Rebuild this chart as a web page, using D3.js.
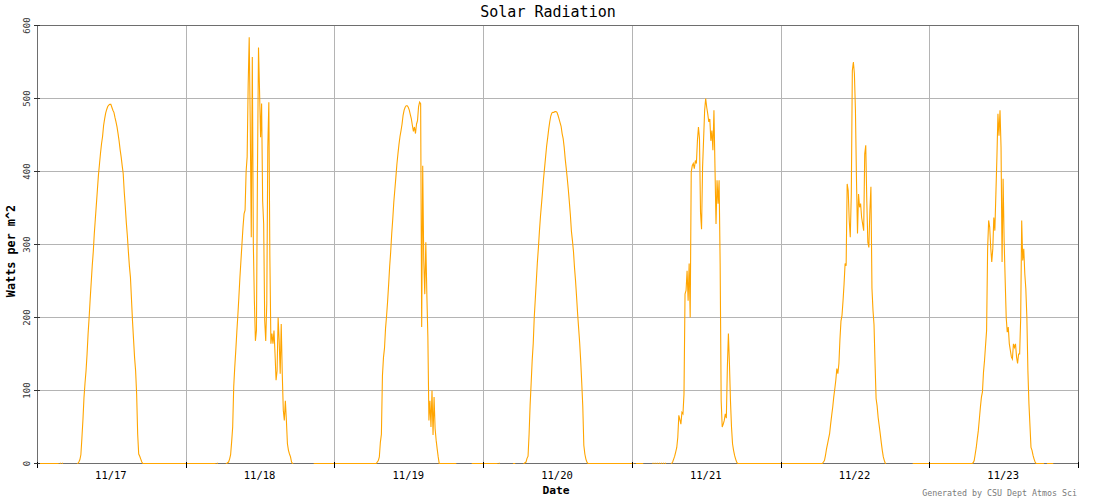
<!DOCTYPE html>
<html><head><meta charset="utf-8">
<script src="https://cdn.jsdelivr.net/npm/d3@7"></script>
<style>
html,body{margin:0;padding:0;background:#fff;}
svg{display:block;}
</style></head><body>
<svg id="chart" width="1100" height="500"></svg>
<script>
const chartTitle = "Solar Radiation";
const xAxisTitle = "Date";
const yAxisTitle = "Watts per m^2";
const creditText = "Generated by CSU Dept Atmos Sci";
const dayLabels = ["11/17","11/18","11/19","11/20","11/21","11/22","11/23"];
const yTicks = [0,100,200,300,400,500,600];
const sampleMinutes = 10;

// 10-minute samples, 00:00 to 23:50, one array per day (W/m^2)
const nov17 = [
0,0,0,0,0,0,0,0,0,0,0,0,
0,0,0,0,0,0,0,0,0,-3,0,-3,
0,-3,-3,-3,-3,-3,-3,-3,-3,-3,-3,-3,
-3,-3,-3,0,2,5,12,35,60,90,110,127,
150,178,200,225,248,271,290,315,335,355,375,395,
410,425,438,448,463,472,480,485,489,491,492,492,
488,484,481,474,468,461,452,442,430,420,408,397,
372,352,330,312,290,270,255,225,195,170,145,127,
95,40,13,10,6,2,0,0,0,0,0,0,
0,0,0,0,0,0,0,0,0,0,0,0,
0,0,0,0,0,0,0,0,0,0,0,0,
0,0,0,0,0,0,0,0,0,0,0,0];
const nov18 = [
0,0,0,0,0,0,0,0,0,0,0,0,
0,0,0,0,0,0,0,0,0,0,0,0,
0,0,0,0,0,-3,0,-3,-3,-3,-3,-3,
-3,-3,-3,0,1,2,6,12,30,50,105,132,
155,180,203,228,255,278,301,324,342,347,400,420,
520,584,465,310,557,300,223,168,182,401,570,511,
447,493,360,328,196,168,219,433,495,283,164,178,
164,182,150,114,127,200,168,123,191,123,73,59,
86,59,27,18,13,9,2,0,-3,-3,-3,-3,
-3,-3,-3,-3,-3,-3,-3,-3,-3,-3,-3,-3,
-3,-3,-3,-3,0,0,0,0,0,0,0,0,
0,0,0,0,0,0,0,0,0,0,0,0];
const nov19 = [
0,0,0,0,0,0,0,0,0,0,0,0,
0,0,0,0,0,0,0,0,0,0,0,0,
0,0,0,0,0,0,0,0,0,0,0,0,
0,0,0,0,0,2,4,9,29,40,120,145,
158,185,202,222,245,270,290,315,335,358,375,392,
410,424,437,448,456,465,477,484,488,490,490,488,
484,478,472,463,455,461,452,465,470,489,495,493,
187,408,278,232,303,232,173,59,86,50,100,39,
91,48,32,20,9,0,0,0,0,0,0,0,
0,0,0,0,0,0,0,0,0,0,-3,-3,
-3,-3,-3,-3,-3,-3,-3,-3,-3,-3,-3,-3,
-3,0,0,0,0,0,0,0,0,0,0,0];
const nov20 = [
0,0,0,0,0,0,0,0,0,0,0,0,
0,0,-3,0,-3,-3,-3,-3,-3,-3,-3,-3,
-3,-3,-3,-3,-3,0,0,-3,-3,-3,-3,-3,
-3,-3,-3,0,1,2,7,10,40,80,110,141,
164,200,225,250,275,295,318,338,355,372,390,405,
420,435,446,458,468,476,480,481,481,482,482,481,
477,472,467,462,452,445,433,417,404,390,375,358,
340,318,305,290,268,250,228,205,185,165,140,110,
78,25,13,6,2,0,0,0,0,0,0,0,
0,0,0,0,0,0,0,0,0,0,0,0,
0,0,0,0,0,0,0,0,0,0,0,0,
0,0,0,0,0,0,0,0,0,0,0,0];
const nov21 = [
0,0,-3,-3,0,0,0,0,0,0,0,-3,
-3,-3,-3,-3,-3,-3,-3,-3,0,-3,0,-3,
0,-3,0,-3,0,-3,0,-3,0,-3,-3,-3,
-3,-3,0,2,6,10,16,22,36,66,60,54,
70,68,95,232,237,264,223,274,200,399,408,411,
404,415,411,442,461,445,344,321,406,445,484,500,
488,479,468,472,442,456,429,484,406,328,388,356,
388,274,86,50,54,59,68,62,132,178,137,86,
50,27,18,11,6,2,0,0,0,0,0,0,
0,0,0,0,0,0,0,0,0,0,0,0,
0,0,0,0,0,0,0,0,0,0,0,0,
0,0,0,0,0,0,0,0,0,0,0,0];
const nov22 = [
0,0,0,0,0,0,0,0,0,0,0,0,
0,0,0,0,0,0,0,0,0,0,0,0,
0,0,0,0,0,0,0,0,0,0,0,0,
0,0,0,0,0,2,4,11,20,27,34,41,
54,66,77,91,102,114,130,123,137,170,195,203,
223,246,274,271,383,374,333,310,369,538,550,534,
484,390,315,369,351,356,337,328,319,424,436,360,
303,296,347,379,240,210,190,137,89,79,63,52,
41,29,18,9,4,0,-3,-3,-3,-3,-3,-3,
-3,-3,-3,-3,-3,-3,-3,-3,-3,-3,-3,-3,
-3,-3,-3,-3,-3,-3,-3,-3,0,0,0,0,
0,0,0,0,0,0,0,0,0,0,0,0];
const nov23 = [
0,0,0,0,0,0,0,0,0,0,0,0,
0,0,0,0,0,0,0,0,0,0,0,0,
0,0,0,0,0,0,0,0,0,0,0,0,
0,0,0,0,0,0,1,4,13,22,34,45,
61,77,91,98,125,141,162,182,294,333,324,296,
276,294,337,319,369,420,479,449,484,433,276,390,
305,251,200,180,187,164,155,146,143,164,159,164,
146,137,150,150,198,333,278,294,260,239,200,127,
82,52,22,18,11,6,2,0,0,0,0,0,
0,0,0,-3,-3,-3,0,0,0,0,0,0,
-3,-3,-3,-3,-3,-3,-3,-3,-3,-3,-3,-3,
-3,-3,-3,-3,-3,-3,-3,-3,-3,-3,-3,-3];

const series = [nov17, nov18, nov19, nov20, nov21, nov22, nov23];
const dayMs = 86400000;
const start = Date.UTC(2000, 10, 17);

const points = [];
series.forEach((vals, d) => vals.forEach((v, i) => {
  points.push({ t: new Date(start + d * dayMs + i * sampleMinutes * 60000), v });
}));

const plotL = 37, plotR = 1078, plotT = 25, plotB = 463;
const x = d3.scaleUtc().domain([new Date(start), new Date(start + 7 * dayMs)]).range([plotL, plotR]);
const y = d3.scaleLinear().domain([0, 600]).range([plotB, plotT]);

const svg = d3.select("#chart");
svg.append("rect").attr("width", 1100).attr("height", 500).attr("fill", "#fff");
const g = svg.append("g").attr("transform", "translate(0.5,0.5)");

const dayBounds = d3.range(0, 8).map(d => new Date(start + d * dayMs));
const dayNoons = dayLabels.map((lab, d) => new Date(start + d * dayMs + dayMs / 2));

// grid
g.append("g").selectAll("line").data(yTicks.filter(v => v > 0 && v < 600)).join("line")
  .attr("x1", plotL).attr("x2", plotR)
  .attr("y1", d => Math.round(y(d))).attr("y2", d => Math.round(y(d)))
  .attr("stroke", "#b4b4b4").attr("shape-rendering", "crispEdges");
g.append("g").selectAll("line").data(dayBounds.slice(1, 7)).join("line")
  .attr("x1", d => Math.round(x(d))).attr("x2", d => Math.round(x(d)))
  .attr("y1", plotT).attr("y2", plotB)
  .attr("stroke", "#b4b4b4").attr("shape-rendering", "crispEdges");

// frame
g.append("rect").attr("x", plotL).attr("y", plotT).attr("width", plotR - plotL).attr("height", plotB - plotT)
  .attr("fill", "none").attr("stroke", "#6e6e6e").attr("shape-rendering", "crispEdges");

// data line
svg.append("defs").append("clipPath").attr("id", "plotclip")
  .append("rect").attr("x", plotL - 0.5).attr("y", plotT - 0.5).attr("width", plotR - plotL + 1).attr("height", plotB - plotT + 1);
const line = d3.line().x(d => x(d.t)).y(d => y(d.v));
g.append("path").datum(points)
  .attr("clip-path", "url(#plotclip)")
  .attr("fill", "none").attr("stroke", "#ffa500").attr("stroke-width", 1.1)
  .attr("d", line);

// x tick marks
g.append("g").selectAll("line").data(dayBounds).join("line")
  .attr("x1", d => Math.round(x(d))).attr("x2", d => Math.round(x(d)))
  .attr("y1", plotB - 2).attr("y2", plotB + 4)
  .attr("stroke", "#000").attr("shape-rendering", "crispEdges");
// x labels
const xLab = d3.axisBottom(x).tickValues(dayNoons).tickSize(0).tickPadding(0)
  .tickFormat((d, i) => dayLabels[i]);
const xl = svg.append("g").attr("transform", "translate(-1,0)").call(xLab);
xl.select(".domain").remove();
xl.selectAll("text").attr("y", 479).attr("dy", null)
  .attr("font-family", "'DejaVu Sans Mono', monospace").attr("font-size", 10.5).attr("fill", "#000");

// y ticks
g.append("g").selectAll("line").data(yTicks).join("line")
  .attr("x1", plotL - 4).attr("x2", plotL + 2)
  .attr("y1", d => Math.round(y(d))).attr("y2", d => Math.round(y(d)))
  .attr("stroke", "#333").attr("shape-rendering", "crispEdges");
svg.append("g").selectAll("text").data(yTicks).join("text")
  .attr("transform", d => `translate(30,${y(d) + 0.5}) rotate(-90)`)
  .attr("text-anchor", "middle")
  .attr("font-family", "'DejaVu Sans Mono', monospace").attr("font-size", 9).attr("fill", "#333")
  .text(d => d);

// titles
svg.append("text").attr("x", 548).attr("y", 17).attr("text-anchor", "middle")
  .attr("font-family", "'DejaVu Sans Mono', monospace").attr("font-size", 15).attr("fill", "#000")
  .text(chartTitle);
svg.append("text").attr("x", 556).attr("y", 494).attr("text-anchor", "middle")
  .attr("font-family", "'DejaVu Sans Mono', monospace").attr("font-weight", "bold").attr("font-size", 11.3).attr("fill", "#000")
  .text(xAxisTitle);
svg.append("text").attr("transform", "translate(14.5,251) rotate(-90)").attr("text-anchor", "middle")
  .attr("font-family", "'DejaVu Sans Mono', monospace").attr("font-weight", "bold").attr("font-size", 11.8).attr("fill", "#000")
  .text(yAxisTitle);
svg.append("text").attr("x", 1077).attr("y", 495.5).attr("text-anchor", "end")
  .attr("font-family", "'DejaVu Sans Mono', monospace").attr("font-size", 8.3).attr("fill", "#7a7a7a")
  .text(creditText);
</script>
</body></html>
